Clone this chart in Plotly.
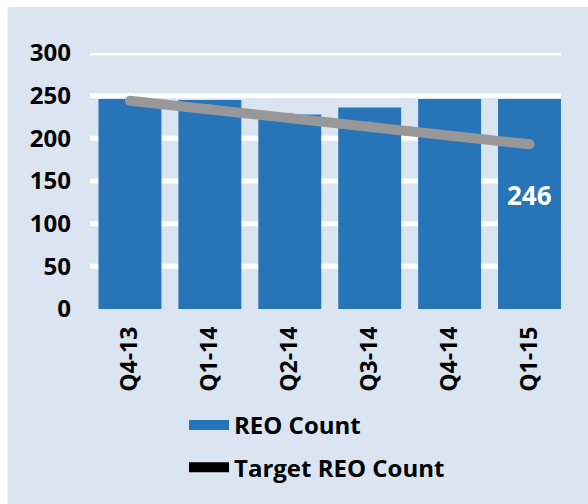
import plotly.graph_objects as go

categories = ["Q4-13", "Q1-14", "Q2-14", "Q3-14", "Q4-14", "Q1-15"]
reo_count = [246, 245, 228, 236, 246, 246]
target_reo = [244, 234, 224, 214, 203, 193]
y_ticks = [0, 50, 100, 150, 200, 250, 300]

BG = "#dbe5f1"
BLUE = "#2874b8"
GRAY = "#979897"
FONT = "Open Sans"

fig = go.Figure()
fig.add_trace(go.Bar(
    x=categories, y=reo_count, name="REO Count",
    marker=dict(color=BLUE, line=dict(width=0)),
    showlegend=False,
))
fig.add_trace(go.Scatter(
    x=categories, y=target_reo, mode="lines+markers",
    line=dict(color=GRAY, width=10), marker=dict(color=GRAY, size=10),
    showlegend=False, hoverinfo="skip",
))
# legend entries styled like the Excel legend (wide blue swatch, black line)
fig.add_trace(go.Scatter(
    x=[None], y=[None], mode="lines", name="REO Count",
    line=dict(color=BLUE, width=16), legendgroup="a",
))
fig.add_trace(go.Scatter(
    x=[None], y=[None], mode="lines", name="Target REO Count",
    line=dict(color="black", width=10), legendgroup="b",
))

# plot area in pixels
L, R, T, B = 89.5, 561, 53, 309
W, H = 588, 504
pw, ph = R - L, B - T

shapes = [dict(type="rect", xref="paper", yref="paper", layer="below",
               x0=(7 - L) / pw, x1=(W + 5 - L) / pw,
               y0=(B - (H + 5)) / ph, y1=(B - 7) / ph,
               fillcolor=BG, line=dict(width=0))]
for t in y_ticks[1:]:
    shapes.append(dict(type="line", xref="paper", yref="y", layer="below",
                       x0=0, x1=1, y0=t, y1=t,
                       line=dict(color="white", width=5)))

fig.add_annotation(x=categories[-1], y=134, text="%d" % reo_count[-1],
                   showarrow=False,
                   font=dict(family=FONT, size=26, color="white", weight=700))

fig.update_layout(
    width=W, height=H,
    margin=dict(l=L, r=W - R, t=T, b=H - B, pad=0, autoexpand=False),
    paper_bgcolor="white", plot_bgcolor="rgba(0,0,0,0)",
    shapes=shapes,
    bargap=0.2125,
    showlegend=True,
    legend=dict(xref="container", yref="container",
                x=184 / W, y=1 - 403 / H, xanchor="left", yanchor="top",
                font=dict(family=FONT, size=24, color="black", weight=700),
                tracegroupgap=8, bgcolor="rgba(0,0,0,0)", itemwidth=40),
    xaxis=dict(range=[-0.5, 5.394], tickangle=-90, showgrid=False, zeroline=False,
               showline=False, ticks="", ticklabelstandoff=12, automargin=False,
               tickfont=dict(family=FONT, size=23, color="black", weight=700)),
    yaxis=dict(range=[0, 300], tickvals=y_ticks, showgrid=False, zeroline=False,
               showline=False, ticks="", ticklabelstandoff=18, automargin=False,
               tickfont=dict(family=FONT, size=24, color="black", weight=700)),
)

fig.write_html("out.html", config={"displayModeBar": False},
               post_script="document.body.style.margin='0';")
